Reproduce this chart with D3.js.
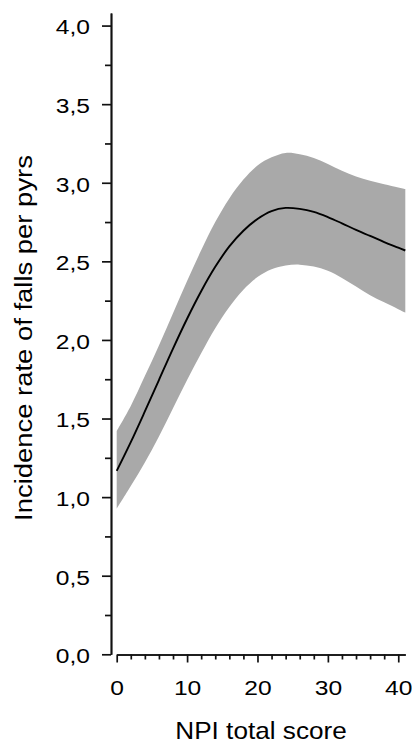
<!DOCTYPE html>
<html>
<head>
<meta charset="utf-8">
<script src="https://cdn.jsdelivr.net/npm/d3@7"></script>
<style>
  html, body { margin: 0; padding: 0; background: #ffffff; }
  svg { display: block; }
  text { font-family: "Liberation Sans", Arial, Helvetica, sans-serif; fill: #000; }
</style>
</head>
<body>
<svg id="chart" width="412" height="743"></svg>
<script>
// ---- data ----
const npiScore = [0, 2, 4, 6, 8, 10, 12, 14, 16, 18, 20, 22, 24, 26, 28, 30, 32, 34, 36, 38, 40, 41];
const fallRate = [1.167, 1.35, 1.545, 1.745, 1.945, 2.135, 2.31, 2.465, 2.595, 2.695, 2.77, 2.82, 2.84, 2.834, 2.815, 2.782, 2.742, 2.70, 2.662, 2.623, 2.587, 2.569];
const upperCI  = [1.42, 1.58, 1.77, 1.965, 2.17, 2.375, 2.57, 2.75, 2.90, 3.02, 3.11, 3.162, 3.19, 3.182, 3.158, 3.12, 3.076, 3.04, 3.012, 2.99, 2.97, 2.96];
const lowerCI  = [0.925, 1.07, 1.22, 1.385, 1.565, 1.745, 1.915, 2.075, 2.21, 2.32, 2.40, 2.45, 2.474, 2.479, 2.467, 2.44, 2.394, 2.34, 2.285, 2.24, 2.196, 2.174];

const yTicks = [0, 0.5, 1, 1.5, 2, 2.5, 3, 3.5, 4];
const yTickLabels = ["0,0", "0,5", "1,0", "1,5", "2,0", "2,5", "3,0", "3,5", "4,0"];
const yMinorTicks = [0.25, 0.75, 1.25, 1.75, 2.25, 2.75, 3.25, 3.75];
const xTicks = [0, 10, 20, 30, 40];
const xTickLabels = ["0", "10", "20", "30", "40"];
const xMinorTicks = [2, 4, 6, 8, 12, 14, 16, 18, 22, 24, 26, 28, 32, 34, 36, 38];
const xTitle = "NPI total score";
const yTitle = "Incidence rate of falls per pyrs";

// ---- layout ----
const svg = d3.select("#chart");
const yAxisX = 111;
const xAxisY = 654.5;

const x = d3.scaleLinear().domain([0, 41]).range([116.7, 405.3]);
const y = d3.scaleLinear().domain([0, 4.08]).range([654.3, 13]);

const rows = npiScore.map((v, i) => ({ x: v, m: fallRate[i], lo: lowerCI[i], hi: upperCI[i] }));
const curve = d3.curveCatmullRom.alpha(0.5);

// confidence band
svg.append("path")
  .datum(rows)
  .attr("fill", "#a9a9a9")
  .attr("stroke", "none")
  .attr("d", d3.area()
    .x(d => x(d.x))
    .y0(d => y(d.lo))
    .y1(d => y(d.hi))
    .curve(curve));

// estimate line
svg.append("path")
  .datum(rows)
  .attr("fill", "none")
  .attr("stroke", "#000")
  .attr("stroke-width", 1.9)
  .attr("d", d3.line()
    .x(d => x(d.x))
    .y(d => y(d.m))
    .curve(curve));

function styleAxis(g) {
  g.selectAll("path.domain").attr("stroke", "#111").attr("stroke-width", 1.7);
  g.selectAll(".tick line").attr("stroke", "#111").attr("stroke-width", 1.7);
}

// y axis minor
const gyMinor = svg.append("g").attr("transform", `translate(${yAxisX},0)`)
  .call(d3.axisLeft(y).tickValues(yMinorTicks).tickSize(6).tickSizeOuter(0).tickFormat(""));
styleAxis(gyMinor);
// y axis major
const gy = svg.append("g").attr("transform", `translate(${yAxisX},0)`)
  .call(d3.axisLeft(y).tickValues(yTicks).tickSize(9).tickSizeOuter(0).tickPadding(12)
    .tickFormat((d, i) => yTickLabels[i]));
styleAxis(gy);
gy.selectAll(".tick text")
  .attr("font-size", 20.5)
  .attr("fill", "#000")
  .attr("dy", "0.41em")
  .each(function () {
    const t = d3.select(this);
    const tx = +t.attr("x");
    t.attr("x", 0).attr("transform", `translate(${tx},0) scale(1.2,1)`);
  });

// x axis minor
const gxMinor = svg.append("g").attr("transform", `translate(0,${xAxisY})`)
  .call(d3.axisBottom(x).tickValues(xMinorTicks).tickSize(5).tickSizeOuter(0).tickFormat(""));
styleAxis(gxMinor);
// x axis major
const gx = svg.append("g").attr("transform", `translate(0,${xAxisY})`)
  .call(d3.axisBottom(x).tickValues(xTicks).tickSize(8).tickSizeOuter(0).tickPadding(18)
    .tickFormat((d, i) => xTickLabels[i]));
styleAxis(gx);
gx.selectAll(".tick text")
  .attr("font-size", 20.5)
  .attr("fill", "#000")
  .attr("dy", "0.71em")
  .attr("transform", "scale(1.2,1)");

// axis titles
svg.append("text")
  .attr("transform", `translate(261,739.3) scale(1.09,1)`)
  .attr("text-anchor", "middle")
  .attr("font-size", 24)
  .text(xTitle);

svg.append("text")
  .attr("transform", `translate(31.7,338) rotate(-90) scale(1.12,1)`)
  .attr("text-anchor", "middle")
  .attr("font-size", 24.5)
  .text(yTitle);
</script>
</body>
</html>
